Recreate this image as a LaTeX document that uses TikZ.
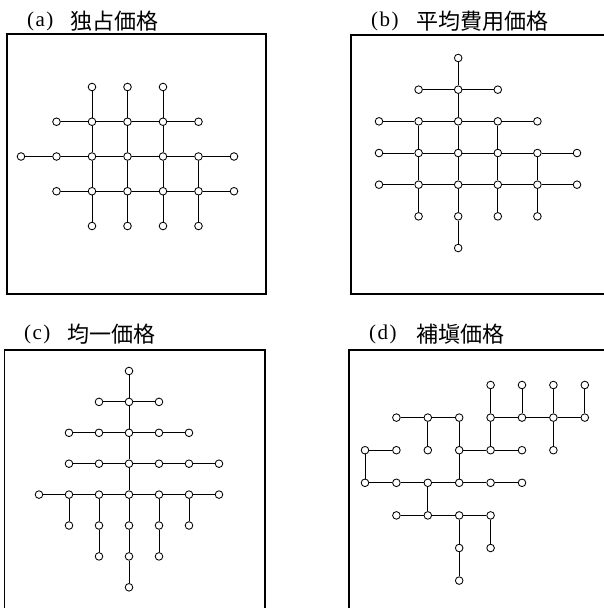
\documentclass[tikz,border=0pt]{standalone}
\usepackage{fontspec}
\newfontfamily\jpfont{Noto Sans CJK JP}
\newfontfamily\serifx{Liberation Serif}
\newcommand\hchain[4]{%
  \pgfmathtruncatemacro\hlast{#4-1}%
  \foreach \i in {#3,...,\hlast}{\pgfmathtruncatemacro\j{\i+1}\draw[edge] (#1-#2-\i) -- (#1-#2-\j);}}
\newcommand\vchain[4]{%
  \pgfmathtruncatemacro\vlast{#4-1}%
  \foreach \i in {#3,...,\vlast}{\pgfmathtruncatemacro\j{\i+1}\draw[edge] (#1-\i-#2) -- (#1-\j-#2);}}
\newcommand\plab[1]{(\kern1.5pt#1\kern1.5pt)}
\begin{document}
\begin{tikzpicture}[x=1pt,y=-1pt,
  dot/.style={circle,draw,fill=white,minimum size=7.6pt,inner sep=0pt,line width=0.85pt},
  edge/.style={line width=0.9pt},
  frame/.style={line width=1.1pt},
  lab/.style={anchor=west,inner sep=0pt,font=\serifx\fontsize{21}{24}\selectfont},
  jlab/.style={anchor=west,inner sep=0pt,font=\jpfont\fontsize{22}{24}\selectfont}]
\useasboundingbox (0,0) rectangle (604,608);
% titles
\node[lab] (ta) at (27,21) {\plab{a}};
\node[jlab] (tja) at (70,21) {独占価格};
\node[lab] (tb) at (371,21) {\plab{b}};
\node[jlab] (tjb) at (416,21) {平均費用価格};
\node[lab] (tc) at (24,334) {\plab{c}};
\node[jlab] (tjc) at (67,334) {均一価格};
\node[lab] (td) at (369,334) {\plab{d}};
\node[jlab] (tjd) at (416,334) {補塡価格};
% frames
\draw[frame] (7,34) rectangle (266,294);
\draw[frame] (606,35) -- (351,35) -- (351,294) -- (606,294);
\draw[frame] (4.5,610) -- (4.5,350) -- (265,350) -- (265,610);
\draw[frame] (349,610) -- (349,350) -- (606,350);
% panel a
\foreach \r/\cs in {0/{2,3,4},1/{1,2,3,4,5},2/{0,1,2,3,4,5,6},3/{1,2,3,4,5,6},4/{2,3,4,5}}
  \foreach \c in \cs \node[dot] (a-\r-\c) at ({21+35.5*\c},{87+34.75*\r}) {};
\hchain{a}{1}{1}{5}\hchain{a}{2}{0}{6}\hchain{a}{3}{1}{6}
\vchain{a}{2}{0}{4}\vchain{a}{3}{0}{4}\vchain{a}{4}{0}{4}\vchain{a}{5}{2}{4}
% panel b
\foreach \r/\cs in {0/{2},1/{1,2,3},2/{0,1,2,3,4},3/{0,1,2,3,4,5},4/{0,1,2,3,4,5},5/{1,2,3,4},6/{2}}
  \foreach \c in \cs \node[dot] (b-\r-\c) at ({379+39.6*\c},{58+31.67*\r}) {};
\hchain{b}{1}{1}{3}\hchain{b}{2}{0}{4}\hchain{b}{3}{0}{5}\hchain{b}{4}{0}{5}
\vchain{b}{1}{2}{5}\vchain{b}{2}{0}{6}\vchain{b}{3}{2}{5}\vchain{b}{4}{3}{5}
% panel c
\foreach \r/\cs in {0/{3},1/{2,3,4},2/{1,2,3,4,5},3/{1,2,3,4,5,6},4/{0,1,2,3,4,5,6},5/{1,2,3,4,5},6/{2,3,4},7/{3}}
  \foreach \c in \cs \node[dot] (c-\r-\c) at ({39+30*\c},{371+30.9*\r}) {};
\hchain{c}{1}{2}{4}\hchain{c}{2}{1}{5}\hchain{c}{3}{1}{6}\hchain{c}{4}{0}{6}
\vchain{c}{3}{0}{7}\vchain{c}{1}{4}{5}\vchain{c}{2}{4}{6}\vchain{c}{4}{4}{6}\vchain{c}{5}{4}{5}
% panel d
\foreach \r/\cs in {0/{4,5,6,7},1/{1,2,3,4,5,6,7},2/{0,1,2,3,4,5,6},3/{0,1,2,3,4,5},4/{1,2,3,4},5/{3,4},6/{3}}
  \foreach \c in \cs \node[dot] (d-\r-\c) at ({365+31.4*\c},{385+32.6*\r}) {};
\hchain{d}{1}{1}{3}\hchain{d}{1}{4}{7}\hchain{d}{2}{0}{1}\hchain{d}{2}{3}{5}\hchain{d}{3}{0}{5}\hchain{d}{4}{1}{4}
\vchain{d}{4}{0}{2}\vchain{d}{5}{0}{1}\vchain{d}{6}{0}{2}\vchain{d}{7}{0}{1}
\vchain{d}{2}{1}{2}\vchain{d}{3}{1}{3}\vchain{d}{0}{2}{3}\vchain{d}{2}{3}{4}\vchain{d}{3}{4}{6}\vchain{d}{4}{4}{5}
\end{tikzpicture}
\end{document}
